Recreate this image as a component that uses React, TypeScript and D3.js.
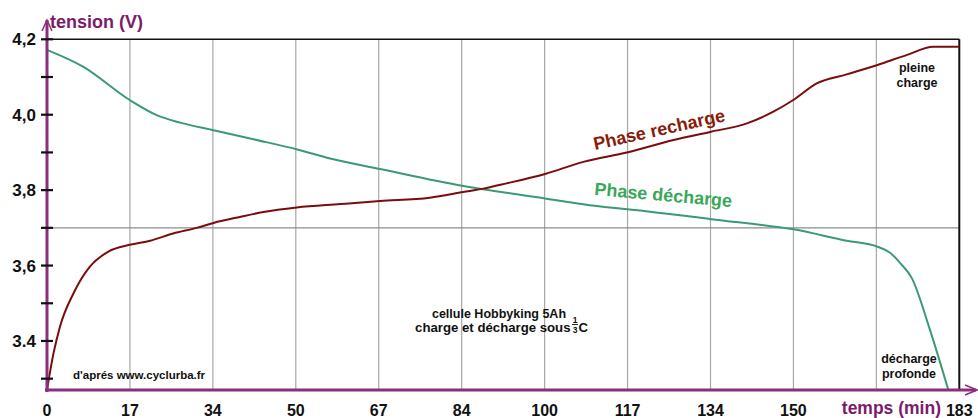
import React from "react";
import * as d3 from "d3";

// Recharge phase (time in min, voltage in V)
const rechargeTime = [0, 1.3, 2.6, 5.3, 8.6, 12.3, 16.6, 20.7, 25.3, 30, 33.4, 38.7, 43.4, 50.1, 58.8, 66.8, 76.8, 83.5, 87.5, 92.2, 99.9, 107.6, 116.3, 125.7, 133.2, 140.4, 145.7, 149.7, 154.4, 160.4, 166.6, 172.4, 177.8, 183];
const rechargeVolt = [3.27, 3.367, 3.438, 3.526, 3.597, 3.637, 3.655, 3.666, 3.685, 3.7, 3.713, 3.729, 3.742, 3.754, 3.763, 3.771, 3.78, 3.795, 3.804, 3.818, 3.843, 3.875, 3.9, 3.933, 3.955, 3.977, 4.008, 4.039, 4.083, 4.107, 4.132, 4.158, 4.18, 4.18];

// Discharge phase
const dischargeTime = [0, 7.3, 16.6, 22, 26.7, 33.4, 41.4, 50.2, 56.8, 66.8, 83.5, 99.9, 110.3, 121, 133.2, 149.7, 160.4, 166.6, 169.1, 171.2, 173.5, 177.1, 180.8];
const dischargeVolt = [4.172, 4.127, 4.039, 3.999, 3.979, 3.959, 3.935, 3.908, 3.884, 3.856, 3.811, 3.778, 3.758, 3.743, 3.723, 3.696, 3.666, 3.65, 3.634, 3.606, 3.566, 3.43, 3.27];

const xTickLabels = ["0", "17", "34", "50", "67", "84", "100", "117", "134", "150", "", "183"];
const yMinorTicks = [3.3, 3.4, 3.5, 3.6, 3.7, 3.8, 3.9, 4.0, 4.1, 4.2];
const yLabelValues = [4.2, 4.0, 3.8, 3.6, 3.4];
const yLabelTexts = ["4,2", "4,0", "3,8", "3,6", "3.4"];

const W = 978;
const H = 418;
const left = 47;
const right = 959.3;
const top = 39.3;
const bottom = 390;

const PURPLE = "#8b2f7d";
const PURPLE_TEXT = "#7b1b6b";
const GREEN = "#3a9a76";
const GREEN_TEXT = "#3aa85a";
const RED = "#7a0c0c";
const RED_TEXT = "#8a1a0a";
const FONT = "'Liberation Sans', Arial, sans-serif";

export default function App() {
  const x = d3.scaleLinear().domain([0, 183]).range([left, right]);
  const y = d3.scaleLinear().domain([3.27, 4.2]).range([bottom, top]);

  const line = d3
    .line<[number, number]>()
    .x((d) => x(d[0]))
    .y((d) => y(d[1]))
    .curve(d3.curveMonotoneX);

  const recharge = rechargeTime.map((t, i) => [t, rechargeVolt[i]] as [number, number]);
  const discharge = dischargeTime.map((t, i) => [t, dischargeVolt[i]] as [number, number]);

  const step = 183 / 11;
  const gridTimes = d3.range(1, 11).map((i) => i * step);

  const fracX = 575;

  return (
    <svg
      width={W}
      height={H}
      style={{ position: "absolute", left: 0, top: 0, background: "#fff" }}
      fontFamily={FONT}
    >
      <rect x={0} y={0} width={W} height={H} fill="#fff" />
      {/* vertical gridlines */}
      {gridTimes.map((t, i) => (
        <line key={i} x1={x(t)} x2={x(t)} y1={top} y2={bottom} stroke="#a8a8a8" strokeWidth={1.2} />
      ))}
      {/* 3.7 reference line */}
      <line x1={left} x2={right} y1={y(3.7)} y2={y(3.7)} stroke="#8c8c8c" strokeWidth={1.2} />
      {/* top and right frame */}
      <line x1={left} x2={right} y1={y(4.2)} y2={y(4.2)} stroke="#111" strokeWidth={1.5} />
      <line x1={right} x2={right} y1={top} y2={bottom} stroke="#111" strokeWidth={2} />

      {/* curves */}
      <path d={line(discharge) || ""} fill="none" stroke={GREEN} strokeWidth={2} />
      <path d={line(recharge) || ""} fill="none" stroke={RED} strokeWidth={2} />

      {/* axes */}
      <line x1={left} x2={left} y1={bottom + 2} y2={20} stroke={PURPLE} strokeWidth={3} />
      <polyline points={`${left - 5},${31} ${left},${20} ${left + 5},${31}`} fill="none" stroke={PURPLE} strokeWidth={1.5} />
      <line x1={left - 2} x2={976} y1={bottom} y2={bottom} stroke={PURPLE} strokeWidth={3} />
      <polyline points={`${965},${385} ${977},${bottom} ${965},${395}`} fill="none" stroke={PURPLE} strokeWidth={1.5} />

      {/* y ticks */}
      {yMinorTicks.map((v) => (
        <line key={v} x1={left - 6} x2={left + 6} y1={y(v)} y2={y(v)} stroke="#111" strokeWidth={2.2} />
      ))}
      {yLabelValues.map((v, i) => (
        <text key={v} x={36} y={y(v) + 6} textAnchor="end" fontSize={17} fontWeight="bold" fill="#111">
          {yLabelTexts[i]}
        </text>
      ))}

      {/* x labels */}
      {xTickLabels.map((lab, i) =>
        lab ? (
          <text key={i} x={x(i * step)} y={416} textAnchor="middle" fontSize={16} fontWeight="bold" fill="#111">
            {lab}
          </text>
        ) : null
      )}
      <text x={941} y={414} textAnchor="end" fontSize={17.5} fontWeight="bold" fill={PURPLE_TEXT}>
        temps (min)
      </text>
      <text x={50} y={28} fontSize={18} fontWeight="bold" fill={PURPLE_TEXT}>
        tension (V)
      </text>

      {/* phase labels */}
      <text x={595} y={150} fontSize={18} fontWeight="bold" fill={RED_TEXT} transform="rotate(-12.5 595 150)">
        Phase recharge
      </text>
      <text x={594} y={195} fontSize={18} fontWeight="bold" fill={GREEN_TEXT} transform="rotate(5 594 195)">
        Phase décharge
      </text>

      {/* annotations */}
      <g fontSize={12.5} fontWeight="bold" fill="#111" textAnchor="middle">
        <text x={917} y={72}>pleine</text>
        <text x={917} y={87}>charge</text>
        <text x={909} y={363}>décharge</text>
        <text x={909} y={378}>profonde</text>
        <text x={499} y={318}>cellule Hobbyking 5Ah</text>
      </g>
      <g fontSize={13.2} fontWeight="bold" fill="#111">
        <text x={fracX - 4.5} y={332} textAnchor="end">charge et décharge sous</text>
        <text x={fracX} y={322.5} textAnchor="middle" fontSize={8.5}>1</text>
        <line x1={fracX - 3} x2={fracX + 3} y1={324.5} y2={324.5} stroke="#111" strokeWidth={0.9} />
        <text x={fracX} y={332.5} textAnchor="middle" fontSize={8.5}>3</text>
        <text x={fracX + 3.5} y={332}>C</text>
      </g>
      <text x={73} y={379} fontSize={11.5} fontWeight="bold" fill="#111">
        d'aprés www.cyclurba.fr
      </text>
    </svg>
  );
}
